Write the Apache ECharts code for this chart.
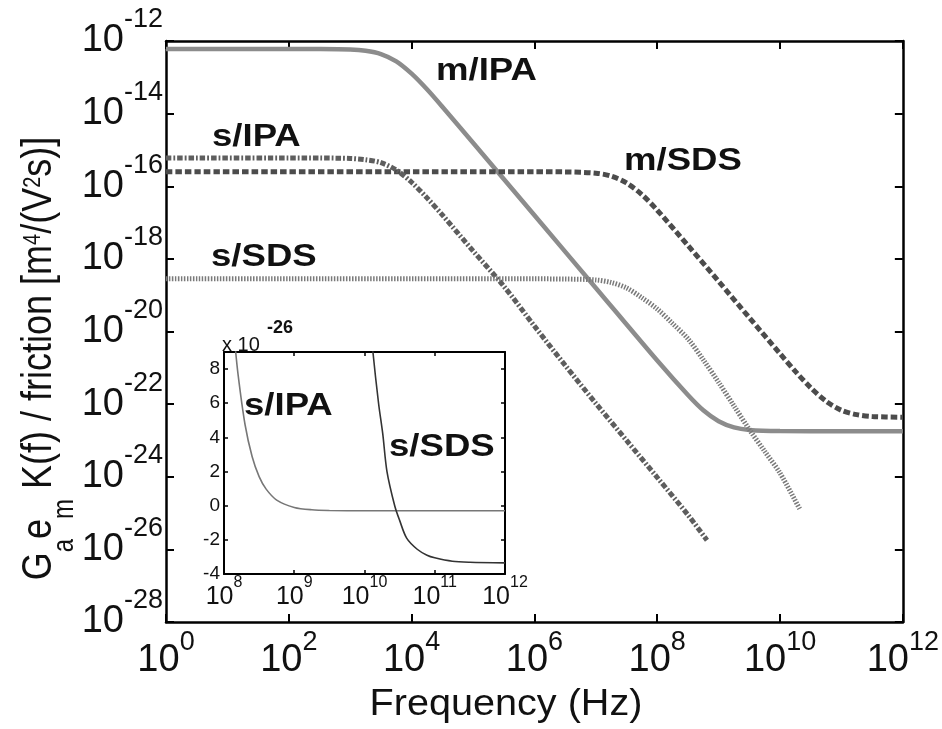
<!DOCTYPE html>
<html>
<head>
<meta charset="utf-8">
<script src="https://cdn.jsdelivr.net/npm/echarts@6/dist/echarts.min.js"></script>
<style>
html,body{margin:0;padding:0;background:#fff;}
#c{width:942px;height:729px;}
</style>
</head>
<body>
<div id="c"></div>
<script>
// ---- data ----
// main plot: frequency as log10(Hz), value as log10(m^4/(V^2 s))
const mIPA_fexp = [0, 1, 2, 2.5, 3, 3.25, 3.5, 3.75, 4, 4.25, 4.5, 5, 6, 7, 8, 8.5, 8.75, 9, 9.25, 9.5, 10, 11, 12];
const mIPA_yexp = [-12.22, -12.22, -12.22, -12.222, -12.236, -12.27, -12.36, -12.56, -12.90, -13.33, -13.81, -14.80, -16.80, -18.80, -20.80, -21.75, -22.17, -22.47, -22.64, -22.71, -22.74, -22.745, -22.745];

const mSDS_fexp = [0, 2, 4, 6, 6.5, 7, 7.25, 7.5, 7.75, 8, 8.5, 9, 9.5, 10, 10.25, 10.5, 10.75, 11, 11.25, 11.5, 12];
const mSDS_yexp = [-15.60, -15.60, -15.60, -15.60, -15.605, -15.64, -15.72, -15.91, -16.23, -16.66, -17.63, -18.62, -19.62, -20.61, -21.10, -21.55, -21.92, -22.17, -22.29, -22.34, -22.36];

const sIPA_fexp = [0, 2, 2.5, 3, 3.25, 3.5, 3.75, 4, 4.25, 4.5, 5, 5.5, 6, 6.5, 7, 7.5, 8, 8.5, 8.81];
const sIPA_yexp = [-15.22, -15.22, -15.222, -15.235, -15.27, -15.35, -15.55, -15.89, -16.32, -16.79, -17.78, -18.75, -19.85, -20.93, -21.98, -23.0, -24.02, -25.05, -25.75];

const sSDS_fexp = [0, 2, 4, 6, 6.5, 7, 7.25, 7.5, 7.75, 8, 8.25, 8.5, 8.75, 9, 9.25, 9.5, 9.75, 10, 10.33];
const sSDS_yexp = [-18.55, -18.55, -18.55, -18.55, -18.555, -18.58, -18.65, -18.80, -19.07, -19.38, -19.78, -20.2, -20.78, -21.4, -22.05, -22.7, -23.3, -23.9, -24.92];

// inset: frequency as log10(Hz), value in units of 1e-26
const insetIPA_fexp = [8.1, 8.15, 8.2, 8.3, 8.4, 8.5, 8.6, 8.75, 9, 9.25, 9.5, 10, 11, 12];
const insetIPA_val  = [12.36, 9.75, 7.69, 4.74, 2.88, 1.70, 0.97, 0.33, -0.10, -0.24, -0.28, -0.30, -0.30, -0.30];
const insetSDS_fexp = [10.08, 10.12, 10.2, 10.26, 10.32, 10.43, 10.5, 10.6, 10.75, 10.89, 11.0, 11.25, 11.5, 12];
const insetSDS_val  = [11.0, 9.0, 6.0, 4.2, 2.0, 0.0, -0.86, -1.9, -2.55, -2.9, -3.05, -3.25, -3.31, -3.35];

// axis ranges / ticks
const mainXRange = [1, 1e12];      // log axis, tick every 2 decades
const mainYExpRange = [-28, -12];  // exponent of 10, tick every 2
const insetXRange = [1e8, 1e12];   // log axis, tick every decade
const insetYRange = [-4, 9];       // tick every 2 (x 10^-26)

const FONT = "'Liberation Sans', Arial, Helvetica, sans-serif";

function logXPairs(fe, ye) { return fe.map((f, i) => [Math.pow(10, f), ye[i]]); }
function pow10Label(v) {
  const e = Math.round(Math.log10(v));
  return '{b|10}{e|' + e + '}';
}
function expLabel(v) { return '{b|10}{e|' + Math.round(v) + '}'; }

const chart = echarts.init(document.getElementById('c'), null, {renderer: 'canvas'});

const axLine = w => ({show: true, onZero: false, lineStyle: {color: '#000', width: w}});
const axTick = (len, w) => ({show: true, inside: true, length: len, lineStyle: {color: '#000', width: w}});

const option = {
  backgroundColor: '#fff',
  animation: false,
  grid: [
    {left: 166, top: 41, width: 737, height: 581, show: false},
    {left: 224, top: 352, width: 281, height: 222, show: true, backgroundColor: '#fff', borderWidth: 0, z: 5}
  ],
  xAxis: [
    {type: 'log', logBase: 10, gridIndex: 0, position: 'bottom', min: mainXRange[0], max: mainXRange[1], interval: 2,
     axisLine: axLine(2.5), axisTick: axTick(8, 2), splitLine: {show: false}, minorTick: {show: false},
     axisLabel: {margin: 19, formatter: pow10Label, color: '#111',
       rich: {b: {fontSize: 38, lineHeight: 40, fontFamily: FONT, color: '#111'},
              e: {fontSize: 27, lineHeight: 10, padding: [0, 0, 36, 0], fontFamily: FONT, color: '#111'}}}},
    {type: 'log', logBase: 10, gridIndex: 0, position: 'top', min: mainXRange[0], max: mainXRange[1], interval: 2,
     axisLine: axLine(2.5), axisTick: axTick(8, 2), splitLine: {show: false}, axisLabel: {show: false}},
    {type: 'log', logBase: 10, gridIndex: 1, position: 'bottom', min: insetXRange[0], max: insetXRange[1], interval: 1,
     axisLine: axLine(2), axisTick: axTick(4, 1.5), splitLine: {show: false}, z: 6,
     axisLabel: {margin: 10, formatter: pow10Label, color: '#111',
       rich: {b: {fontSize: 25, lineHeight: 26, fontFamily: FONT, color: '#111'},
              e: {fontSize: 16, lineHeight: 10, padding: [0, 0, 29, 0], fontFamily: FONT, color: '#111'}}}},
    {type: 'log', logBase: 10, gridIndex: 1, position: 'top', min: insetXRange[0], max: insetXRange[1], interval: 1,
     axisLine: axLine(2), axisTick: axTick(4, 1.5), splitLine: {show: false}, axisLabel: {show: false}, z: 6}
  ],
  yAxis: [
    {type: 'value', gridIndex: 0, position: 'left', min: mainYExpRange[0], max: mainYExpRange[1], interval: 2,
     axisLine: axLine(2.5), axisTick: axTick(8, 2), splitLine: {show: false},
     axisLabel: {margin: 3, formatter: expLabel, color: '#111',
       rich: {b: {fontSize: 38, lineHeight: 40, fontFamily: FONT, color: '#111'},
              e: {fontSize: 27, lineHeight: 10, padding: [0, 0, 42, 0], fontFamily: FONT, color: '#111'}}}},
    {type: 'value', gridIndex: 0, position: 'right', min: mainYExpRange[0], max: mainYExpRange[1], interval: 2,
     axisLine: axLine(2.5), axisTick: axTick(8, 2), splitLine: {show: false}, axisLabel: {show: false}},
    {type: 'value', gridIndex: 1, position: 'left', min: insetYRange[0], max: insetYRange[1], interval: 2,
     axisLine: axLine(2), axisTick: axTick(4, 1.5), splitLine: {show: false}, z: 6,
     axisLabel: {margin: 4, showMaxLabel: false, fontSize: 19, fontFamily: FONT, color: '#111'}},
    {type: 'value', gridIndex: 1, position: 'right', min: insetYRange[0], max: insetYRange[1], interval: 2,
     axisLine: axLine(2), axisTick: axTick(4, 1.5), splitLine: {show: false}, axisLabel: {show: false}, z: 6}
  ],
  series: [
    {name: 'm/IPA', type: 'line', xAxisIndex: 0, yAxisIndex: 0, data: logXPairs(mIPA_fexp, mIPA_yexp),
     showSymbol: false, smooth: 0.3, lineStyle: {color: '#8c8c8c', width: 4.5, type: 'solid'}},
    {name: 'm/SDS', type: 'line', xAxisIndex: 0, yAxisIndex: 0, data: logXPairs(mSDS_fexp, mSDS_yexp),
     showSymbol: false, smooth: 0.3, lineStyle: {color: '#4c4c4c', width: 5, type: [6.5, 3], cap: 'butt'}},
    {name: 's/IPA', type: 'line', xAxisIndex: 0, yAxisIndex: 0, data: logXPairs(sIPA_fexp, sIPA_yexp),
     showSymbol: false, smooth: 0.3, lineStyle: {color: '#5e5e5e', width: 5, type: [5.5, 2, 1.8, 2], cap: 'butt'}},
    {name: 's/SDS', type: 'line', xAxisIndex: 0, yAxisIndex: 0, data: logXPairs(sSDS_fexp, sSDS_yexp),
     showSymbol: false, smooth: 0.3, lineStyle: {color: '#7a7a7a', width: 5, type: [1.5, 1.5], cap: 'butt'}},
    {name: 'inset s/IPA', type: 'line', xAxisIndex: 2, yAxisIndex: 2, data: logXPairs(insetIPA_fexp, insetIPA_val),
     showSymbol: false, smooth: 0.3, z: 7, lineStyle: {color: '#777', width: 1.6}},
    {name: 'inset s/SDS', type: 'line', xAxisIndex: 2, yAxisIndex: 2, data: logXPairs(insetSDS_fexp, insetSDS_val),
     showSymbol: false, smooth: 0.3, z: 7, lineStyle: {color: '#333', width: 1.6}}
  ],
  graphic: [
    {type: 'text', z: 100, x: 436, y: 71.5, scaleX: 1.18,
     style: {text: 'm/IPA', fontSize: 31, fontWeight: 'bold', fontFamily: FONT, fill: '#111', align: 'left', verticalAlign: 'middle'}},
    {type: 'text', z: 100, x: 624, y: 161, scaleX: 1.18,
     style: {text: 'm/SDS', fontSize: 31, fontWeight: 'bold', fontFamily: FONT, fill: '#111', align: 'left', verticalAlign: 'middle'}},
    {type: 'text', z: 100, x: 212, y: 137.5, scaleX: 1.18,
     style: {text: 's/IPA', fontSize: 31, fontWeight: 'bold', fontFamily: FONT, fill: '#111', align: 'left', verticalAlign: 'middle'}},
    {type: 'text', z: 100, x: 211, y: 257.5, scaleX: 1.18,
     style: {text: 's/SDS', fontSize: 31, fontWeight: 'bold', fontFamily: FONT, fill: '#111', align: 'left', verticalAlign: 'middle'}},
    {type: 'text', z: 100, x: 244, y: 406, scaleX: 1.18,
     style: {text: 's/IPA', fontSize: 31, fontWeight: 'bold', fontFamily: FONT, fill: '#111', align: 'left', verticalAlign: 'middle'}},
    {type: 'text', z: 100, x: 389, y: 447.5, scaleX: 1.18,
     style: {text: 's/SDS', fontSize: 31, fontWeight: 'bold', fontFamily: FONT, fill: '#111', align: 'left', verticalAlign: 'middle'}},
    {type: 'text', z: 100, x: 222, y: 345,
     style: {text: 'x 10', fontSize: 20, fontFamily: FONT, fill: '#111', align: 'left', verticalAlign: 'middle'}},
    {type: 'text', z: 100, x: 267, y: 328.5,
     style: {text: '-26', fontSize: 18, fontWeight: 'bold', fontFamily: FONT, fill: '#111', align: 'left', verticalAlign: 'middle'}},
    {type: 'text', z: 100, x: 506, y: 705, scaleX: 1.07,
     style: {text: 'Frequency (Hz)', fontSize: 37, fontFamily: FONT, fill: '#111', align: 'center', verticalAlign: 'middle'}},
    {type: 'text', z: 100, x: 39, y: 358.5, rotation: Math.PI / 2, scaleY: 1.2,
     style: {
       text: '{m|G}{sb|a}{m|e}{sb|m}{m| K(f) / friction [m}{sp|4}{m|/(V}{sp|2}{m|s)]}',
       align: 'center', verticalAlign: 'middle', fill: '#111', fontFamily: FONT,
       rich: {
         m: {fontSize: 36, lineHeight: 44, fontFamily: FONT, fill: '#111'},
         sb: {fontSize: 24, lineHeight: 10, padding: [44, 0, 0, 0], fontFamily: FONT, fill: '#111'},
         sp: {fontSize: 20, lineHeight: 10, padding: [0, 0, 10, 0], fontFamily: FONT, fill: '#111'}
       }
     }}
  ]
};
chart.setOption(option);
</script>
</body>
</html>
